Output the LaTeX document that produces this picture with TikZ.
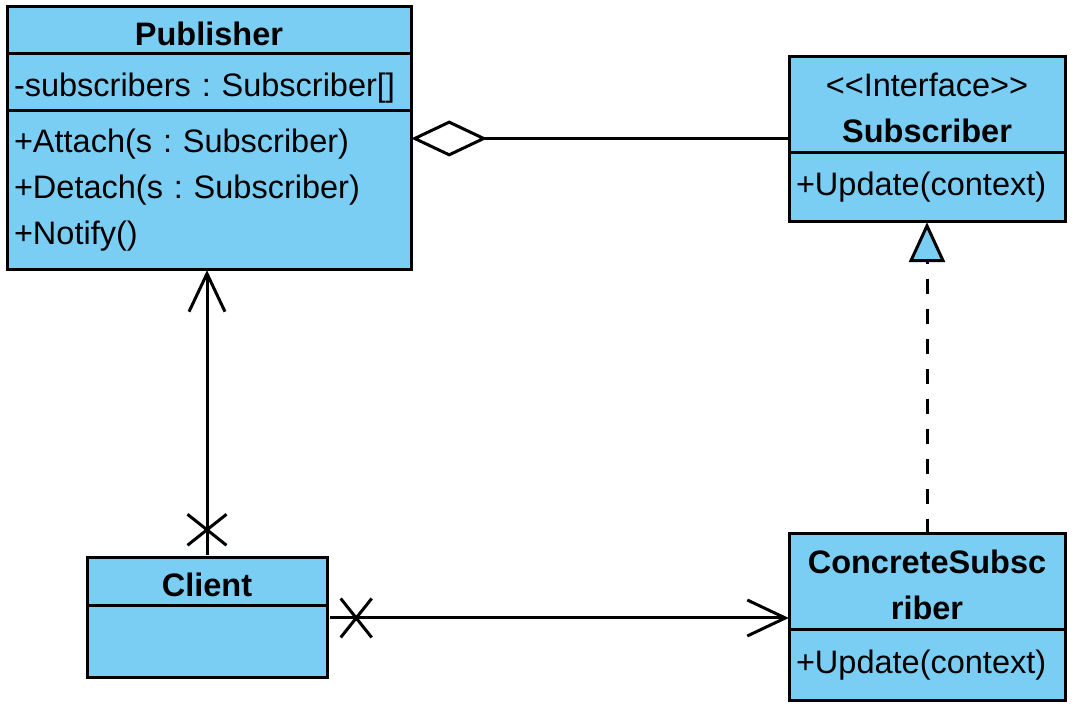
\documentclass[tikz,border=0pt]{standalone}
\usepackage{fontspec}
\setmainfont{Liberation Sans}
\usepackage{tikz}
\usetikzlibrary{arrows.meta, positioning, fit, shapes.misc}
\definecolor{classblue}{RGB}{122,206,244}
\newcommand{\umlfont}{\fontsize{32.5}{46}\selectfont}
\newcommand{\tallstrut}{\rule{0pt}{30pt}}
\frenchspacing
\tikzstyle{classname} = [rectangle, draw = black, fill = classblue,
  line width = 3pt, outer sep = 0, inner sep = 0, align = center,
  font = \umlfont\bfseries]
\tikzstyle{classbody} = [
  rectangle, draw = black, fill = classblue,
  line width = 3pt, outer sep = 0, inner xsep = 7, inner ysep = 0,
  align = left, font = \umlfont
]
\tikzstyle{xmark} = [cross out, draw = black, line width = 3pt, inner sep = 0]
\tikzstyle{aggregation} = [line width = 3pt,
  -{Diamond[open, length = 76pt, width = 36pt]}]
\tikzstyle{navigable} = [line width = 3pt, shorten < = 3pt,
  -{Straight Barb[length = 38pt, width = 36pt]}]
\tikzstyle{realization} = [line width = 3pt, dash pattern = on 15pt off 15pt,
  -{Triangle[fill = classblue, length = 40pt, width = 36pt]}]

\begin{document}
\begin{tikzpicture}[x = 1pt, y = 1pt, node distance = 0]
      \useasboundingbox (0, 0) rectangle (1077, 714);
      % Publisher
      \node [classname, minimum width = 404, minimum height = 47,
        anchor = north west] (pub-name) at (7, 707) {\tallstrut Publisher};
      \node [classbody, text width = 390, minimum height = 57,
        below = 0pt of pub-name] (pub-attr)
        {\rule{0pt}{34pt}-subscribers : Subscriber[]};
      \node [classbody, text width = 390, minimum height = 159,
        below = 0pt of pub-attr] (pub-ops)
        {+Attach(s : Subscriber)\\+Detach(s : Subscriber)\\+Notify()};
      \node [fit = (pub-name) (pub-ops), inner sep = 0] (pub) {};
      % Subscriber
      \node [classname, minimum width = 276, minimum height = 96,
        anchor = north west] (sub-name) at (789, 657)
        {\tallstrut{\mdseries <{}<Interface>{}>}\\Subscriber};
      \node [classbody, text width = 262, minimum height = 69,
        below = 0pt of sub-name] (sub-ops) {+Update(context)};
      \node [fit = (sub-name) (sub-ops), inner sep = 0] (sub) {};
      % Client
      \node [classname, minimum width = 240, minimum height = 48,
        anchor = north west] (client-name) at (87, 156) {\tallstrut Client};
      \node [classbody, text width = 226, minimum height = 72,
        below = 0pt of client-name] (client-ops) {};
      \node [fit = (client-name) (client-ops), inner sep = 0] (client) {};
      % ConcreteSubscriber
      \node [classname, minimum width = 276, minimum height = 96,
        anchor = north west] (conc-name) at (789, 180)
        {\tallstrut ConcreteSubsc\\riber};
      \node [classbody, text width = 262, minimum height = 71,
        below = 0pt of conc-name] (conc-ops) {+Update(context)};
      \node [fit = (conc-name) (conc-ops), inner sep = 0] (conc) {};

      \draw [aggregation] (pub.east -| sub.west) -- (pub.east);
      \draw [navigable] (client.north) -- (client.north |- pub.south);
      \draw [navigable] (client.east) -- (client.east -| conc.west);
      \draw [realization] (conc.north) -- (sub.south);

      \node [xmark, minimum width = 36, minimum height = 28] (client-x-up)
        at ([yshift = 28]client.north) {};
      \node [xmark, minimum width = 28, minimum height = 36] (client-x-right)
        at ([xshift = 29]client.east) {};
    \end{tikzpicture}
\end{document}
